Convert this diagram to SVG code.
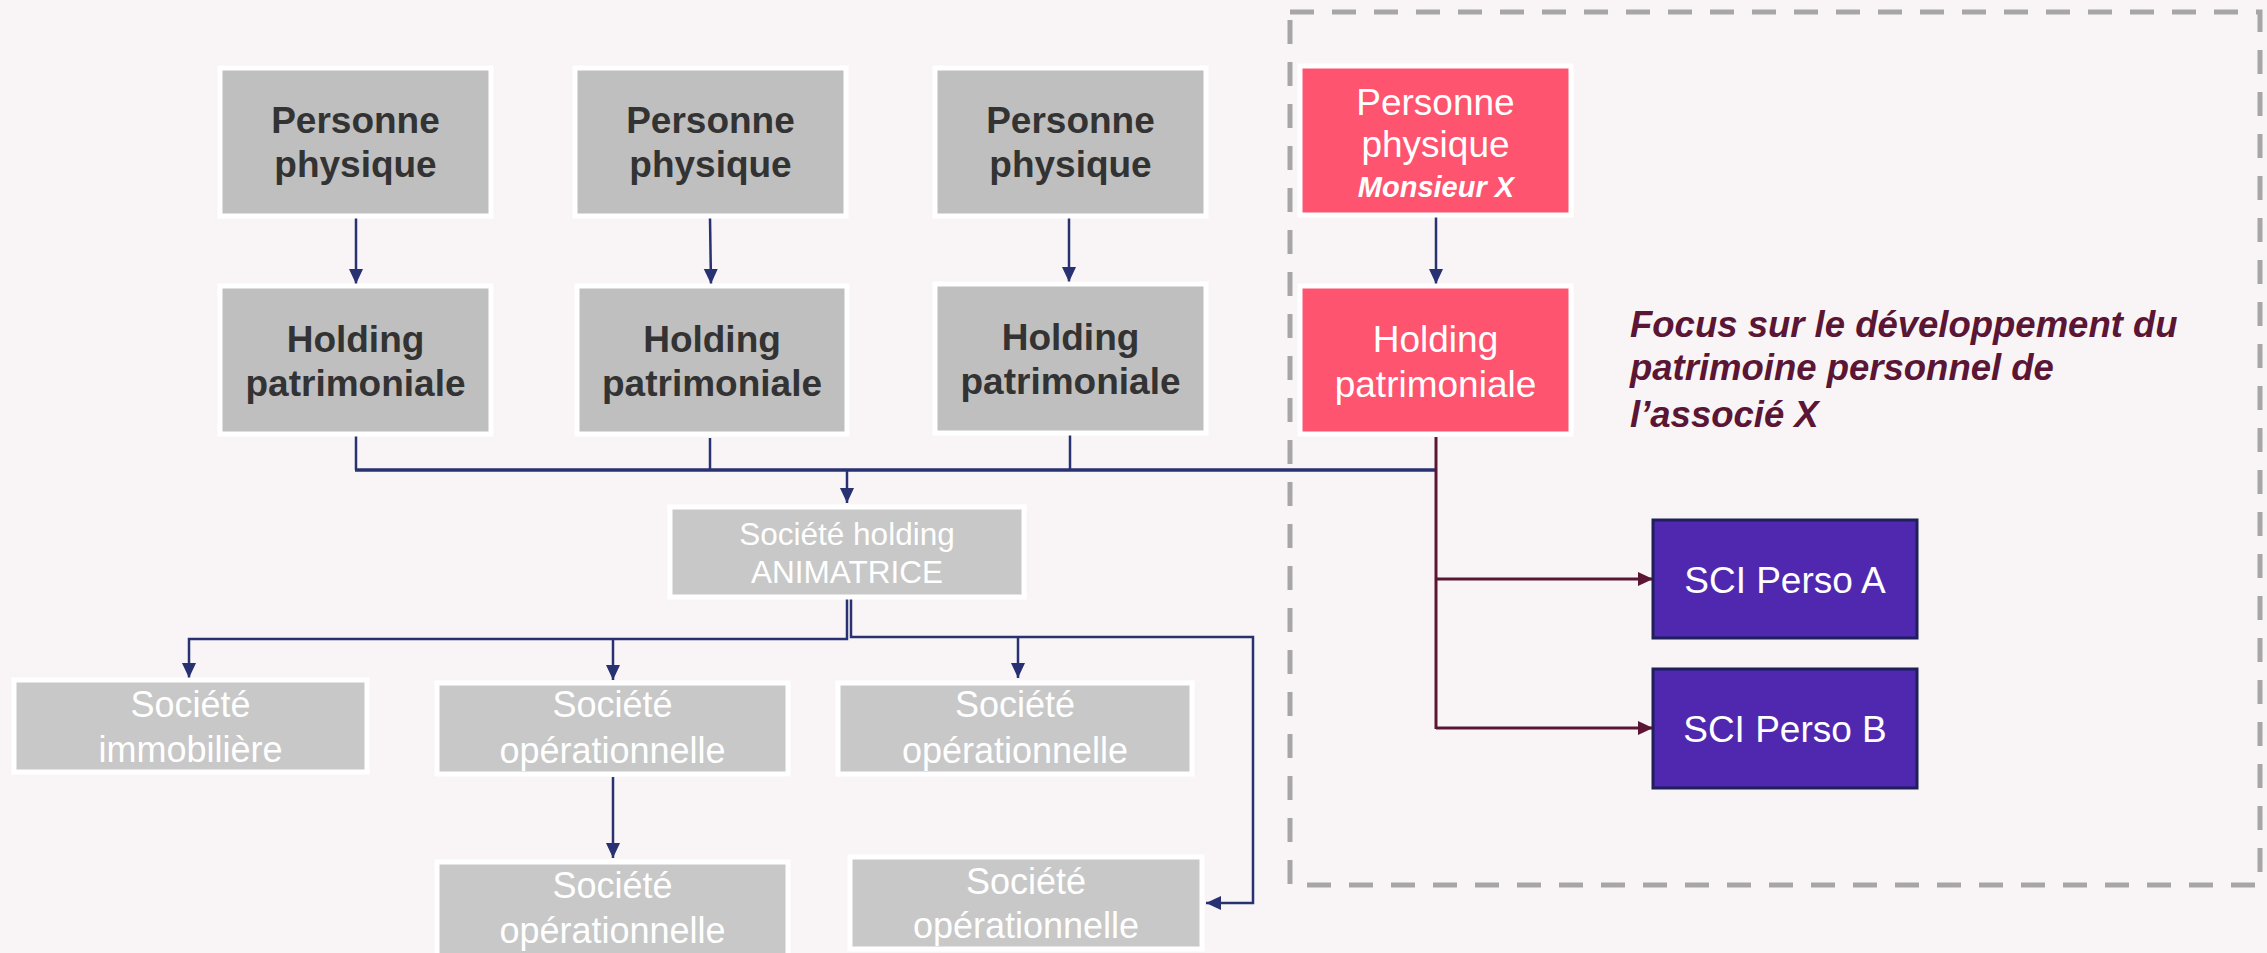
<svg xmlns="http://www.w3.org/2000/svg" width="2267" height="953" viewBox="0 0 2267 953">
<defs>
<marker id="an" markerUnits="userSpaceOnUse" markerWidth="16" markerHeight="16" viewBox="0 0 16 16" refX="15" refY="8" orient="auto"><path d="M0,1 L15,8 L0,15 Z" fill="#283172"/></marker>
<marker id="am" markerUnits="userSpaceOnUse" markerWidth="16" markerHeight="16" viewBox="0 0 16 16" refX="15" refY="8" orient="auto"><path d="M0,1 L15,8 L0,15 Z" fill="#5B1634"/></marker>
<style>
text{font-family:"Liberation Sans",Arial,sans-serif;text-anchor:middle;font-size:37px}
.g1{fill:#BFBFBF;stroke:#fff;stroke-width:5}
.g2{fill:#C8C8C8;stroke:#fff;stroke-width:5}
.pk{fill:#FF5470;stroke:#fff;stroke-width:5}
.pu{fill:#5028B0;stroke:#1F1F5A;stroke-width:3}
.tb{fill:#333;font-weight:bold}
.tw{fill:#fff}
.s36{font-size:36px}
.mx{font-size:29px;font-weight:bold;font-style:italic}
.an{font-size:31.5px}
.fo{font-size:36.5px;font-weight:bold;font-style:italic;fill:#5A1634;text-anchor:start}
.c{fill:none;stroke:#283172;stroke-width:2.5}
.cm{fill:none;stroke:#5B1634;stroke-width:3}
</style>
</defs>
<rect width="2267" height="953" fill="#F9F5F6"/>
<rect x="1290" y="12" width="970" height="873" fill="none" stroke="#A6A6A6" stroke-width="5" stroke-dasharray="24 18"/>
<g id="connectors">
<line class="c" x1="356" y1="218" x2="356" y2="284" marker-end="url(#an)"/>
<line class="c" x1="710" y1="218" x2="711" y2="284" marker-end="url(#an)"/>
<line class="c" x1="1069" y1="218" x2="1069" y2="282" marker-end="url(#an)"/>
<line class="c" x1="1436" y1="217" x2="1436" y2="284" marker-end="url(#an)"/>
<line class="c" x1="356" y1="436" x2="356" y2="470"/>
<line class="c" x1="710" y1="438" x2="710" y2="470"/>
<line class="c" x1="1070" y1="435" x2="1070" y2="470"/>
<line x1="355" y1="470" x2="1436" y2="470" stroke="#283172" stroke-width="3.5"/>
<line class="c" x1="847" y1="470" x2="847" y2="503" marker-end="url(#an)"/>
<polyline class="c" points="847,599 847,639 189,639 189,678" marker-end="url(#an)"/>
<line class="c" x1="613" y1="639" x2="613" y2="680" marker-end="url(#an)"/>
<polyline class="c" points="851,597 851,637 1253,637 1253,903 1206,903" marker-end="url(#an)"/>
<line class="c" x1="1018" y1="637" x2="1018" y2="678" marker-end="url(#an)"/>
<line class="c" x1="613" y1="777" x2="613" y2="858" marker-end="url(#an)"/>
<line class="cm" x1="1436" y1="437" x2="1436" y2="729"/>
<line class="cm" x1="1436" y1="579" x2="1653" y2="579" marker-end="url(#am)"/>
<line class="cm" x1="1436" y1="728" x2="1653" y2="728" marker-end="url(#am)"/>
</g>
<g id="pp1"><rect class="g1" x="220" y="68" width="271" height="148"/><text class="tb" x="355.5" y="133">Personne</text><text class="tb" x="355.5" y="177">physique</text></g>
<g id="pp2"><rect class="g1" x="575" y="68" width="271" height="148"/><text class="tb" x="710.5" y="133">Personne</text><text class="tb" x="710.5" y="177">physique</text></g>
<g id="pp3"><rect class="g1" x="935" y="68" width="271" height="148"/><text class="tb" x="1070.5" y="133">Personne</text><text class="tb" x="1070.5" y="177">physique</text></g>
<g id="h1"><rect class="g1" x="220" y="286" width="271" height="148"/><text class="tb" x="355.5" y="352">Holding</text><text class="tb" x="355.5" y="396">patrimoniale</text></g>
<g id="h2"><rect class="g1" x="577" y="286" width="270" height="148"/><text class="tb" x="712" y="352">Holding</text><text class="tb" x="712" y="396">patrimoniale</text></g>
<g id="h3"><rect class="g1" x="935" y="284" width="271" height="149"/><text class="tb" x="1070.5" y="350">Holding</text><text class="tb" x="1070.5" y="394">patrimoniale</text></g>
<g id="ppx"><rect class="pk" x="1300" y="66" width="271" height="149"/><text class="tw" x="1435.5" y="115">Personne</text><text class="tw" x="1435.5" y="157">physique</text><text class="tw mx" x="1436" y="197">Monsieur X</text></g>
<g id="hx"><rect class="pk" x="1300" y="286" width="271" height="148"/><text class="tw" x="1435.5" y="352">Holding</text><text class="tw" x="1435.5" y="397">patrimoniale</text></g>
<g id="focus"><text class="fo" x="1630" y="337">Focus sur le développement du</text><text class="fo" x="1630" y="380">patrimoine personnel de</text><text class="fo" x="1630" y="427">l’associé X</text></g>
<g id="anim"><rect class="g2" x="670" y="507" width="354" height="90"/><text class="tw an" x="847" y="545">Société holding</text><text class="tw an" x="847" y="583">ANIMATRICE</text></g>
<g id="immo"><rect class="g2" x="14" y="680" width="353" height="92"/><text class="tw s36" x="190.5" y="717">Société</text><text class="tw s36" x="190.5" y="762">immobilière</text></g>
<g id="op1"><rect class="g2" x="437" y="683" width="351" height="91"/><text class="tw s36" x="612.5" y="717">Société</text><text class="tw s36" x="612.5" y="763">opérationnelle</text></g>
<g id="op2"><rect class="g2" x="838" y="683" width="354" height="91"/><text class="tw s36" x="1015" y="717">Société</text><text class="tw s36" x="1015" y="763">opérationnelle</text></g>
<g id="op3"><rect class="g2" x="437" y="862" width="351" height="100"/><text class="tw s36" x="612.5" y="898">Société</text><text class="tw s36" x="612.5" y="943">opérationnelle</text></g>
<g id="op4"><rect class="g2" x="850" y="857" width="352" height="92"/><text class="tw s36" x="1026" y="894">Société</text><text class="tw s36" x="1026" y="938">opérationnelle</text></g>
<g id="scia"><rect class="pu" x="1653" y="520" width="264" height="118"/><text class="tw" x="1785" y="593">SCI Perso A</text></g>
<g id="scib"><rect class="pu" x="1653" y="669" width="264" height="119"/><text class="tw" x="1785" y="742">SCI Perso B</text></g>
</svg>
